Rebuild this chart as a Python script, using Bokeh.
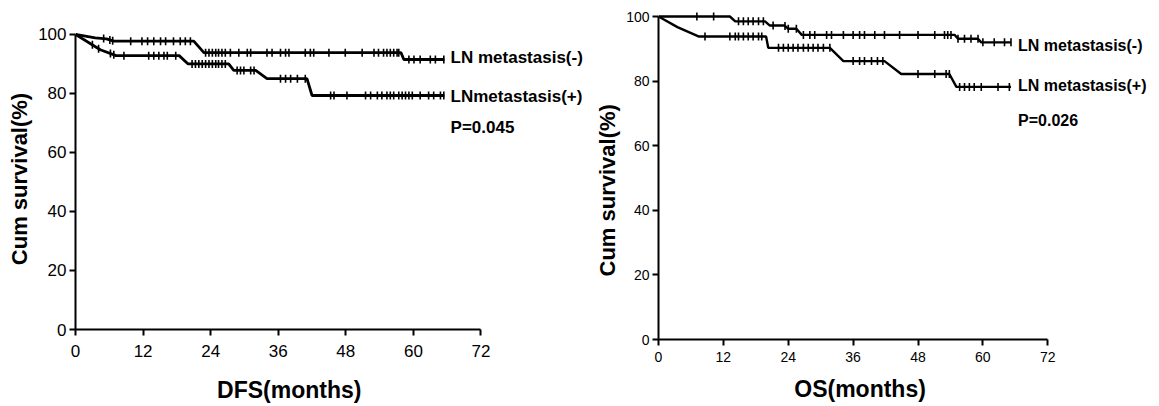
import numpy as np
from bokeh.plotting import figure
from bokeh.layouts import row, column
from bokeh.models import Label, Range1d, FixedTicker, Spacer
from bokeh.embed import file_html
from bokeh.resources import INLINE

# ---------------- data ----------------
x_ticks = [0, 12, 24, 36, 48, 60, 72]
y_ticks = [0, 20, 40, 60, 80, 100]

# DFS, LN metastasis(-)
dfs_neg_t = [0, 3.5, 5.5, 6.8, 21.0, 22.8, 57.8, 58.3, 65.5]
dfs_neg_s = [100, 98.8, 98.5, 97.7, 97.7, 93.8, 93.8, 91.5, 91.5]
dfs_neg_cens = [5.0, 6.1, 6.6, 9.8, 11.8, 12.8, 13.9, 15.1, 16.0, 17.4, 18.6, 19.5, 20.4,
                23.1, 23.7, 24.3, 24.9, 25.4, 26.0, 26.6, 27.5, 29.0, 30.5, 31.1, 34.0,
                34.9, 36.4, 37.3, 37.9, 40.8, 41.7, 42.3, 45.0, 47.9, 50.9, 53.0, 53.8,
                54.7, 55.3, 55.9, 56.5, 57.1, 57.4, 59.2, 60.1, 61.2, 63.0, 63.9, 65.4]

# DFS, LN metastasis(+)
dfs_pos_t = [0, 4.4, 7.2, 18.4, 20.0, 27.2, 28.1, 32.0, 34.0, 41.1, 42.0, 65.5]
dfs_pos_s = [100, 94.8, 92.8, 92.8, 90.0, 90.0, 87.8, 87.8, 85.0, 85.0, 79.3, 79.3]
dfs_pos_cens = [3.0, 4.1, 6.2, 6.8, 8.6, 13.0, 13.9, 14.8, 15.7, 16.3, 17.8,
                20.7, 21.3, 21.9, 22.5, 23.1, 23.7, 24.3, 24.9, 25.4, 26.0, 26.6,
                28.7, 29.3, 29.9, 31.1, 31.7, 36.4, 37.3, 38.2, 39.4, 40.8,
                45.3, 45.9, 48.2, 51.5, 52.4, 53.6, 54.4, 55.3, 55.9, 56.5, 57.4,
                58.0, 58.6, 59.2, 59.8, 61.2, 62.7, 63.6, 64.8, 65.4]

# OS, LN metastasis(-)
os_neg_t = [0, 13.2, 14.2, 19.7, 20.6, 23.3, 24.0, 25.5, 26.5, 54.8, 55.4, 59.1, 59.7, 65.2]
os_neg_s = [100, 100, 98.5, 98.5, 97.2, 97.2, 96.2, 96.2, 94.3, 94.3, 93.1, 93.1, 92.0, 92.0]
os_neg_cens = [7.1, 10.2, 14.8, 15.7, 16.6, 17.5, 18.5, 19.4, 21.2, 23.4, 24.0, 25.5,
               26.8, 28.0, 28.9, 31.1, 32.0, 34.2, 36.0, 37.2, 38.1, 40.0, 41.8, 44.6,
               48.0, 51.1, 52.9, 53.5, 54.1, 55.4, 56.6, 57.8, 59.1, 60.0, 62.1, 64.0, 65.2]

# OS, LN metastasis(+)
os_pos_t = [0, 3.5, 7.5, 19.9, 20.3, 31.7, 34.2, 41.8, 44.9, 53.8, 55.1, 65.2]
os_pos_s = [100, 96.7, 93.8, 93.8, 90.3, 90.3, 86.2, 86.2, 82.2, 82.2, 78.2, 78.2]
os_pos_cens = [8.6, 13.2, 14.2, 14.8, 15.7, 16.6, 17.5, 18.5, 19.1,
               22.2, 23.1, 24.0, 24.9, 25.8, 26.8, 27.7, 28.6, 29.5, 30.5, 31.7,
               36.0, 37.2, 38.1, 39.4, 40.5, 41.5, 48.0, 51.1, 53.2, 53.8,
               55.7, 56.6, 57.5, 58.4, 59.7, 62.8, 64.9]

FONT = "Liberation Sans"
NB = "\u00a0"


def panel(width, height, mb_left, mb_right, mb_top, mb_bottom, x_end, y_end, xlabel, ylabel,
          curves, labels, label_size, xtick_size, ytick_size, line_w, std_major, std_label):
    p = figure(width=width, height=height, output_backend="svg",
               toolbar_location=None, x_range=Range1d(0, x_end), y_range=Range1d(0, y_end),
               min_border_left=mb_left, min_border_right=mb_right,
               min_border_top=mb_top, min_border_bottom=mb_bottom)
    p.outline_line_color = None
    p.grid.visible = False
    p.background_fill_color = "white"
    p.border_fill_color = "white"
    for ax in (p.xaxis[0], p.yaxis[0]):
        ax.axis_line_width = 2
        ax.axis_line_color = "black"
        ax.major_tick_line_width = 2
        ax.major_tick_line_color = "black"
        ax.major_tick_out = 6
        ax.major_tick_in = 0
        ax.minor_tick_line_color = None
        ax.major_label_text_font = FONT
        ax.major_label_text_color = "black"
        ax.axis_label_text_font = FONT
        ax.axis_label_text_font_style = "bold"
        ax.axis_label_text_color = "black"
    p.xaxis.major_label_text_font_size = xtick_size
    p.yaxis.major_label_text_font_size = ytick_size
    p.xaxis.bounds = (0, 72)
    p.yaxis.bounds = (0, 100)
    p.xaxis.ticker = FixedTicker(ticks=x_ticks)
    p.yaxis.ticker = FixedTicker(ticks=y_ticks)
    p.xaxis.axis_label = xlabel
    p.yaxis.axis_label = ylabel
    p.xaxis.axis_label_text_font_size = "23px"
    p.yaxis.axis_label_text_font_size = "22px"
    p.xaxis.major_label_standoff = std_major
    p.yaxis.major_label_standoff = 3
    p.xaxis.axis_label_standoff = std_label
    p.yaxis.axis_label_standoff = 3

    for t, s, c in curves:
        p.line(t, s, line_color="black", line_width=line_w)
        cy = np.interp(c, t, s)
        p.scatter(c, cy, marker="dash", angle=np.pi / 2, size=8,
                  line_color="black", line_width=1.6)

    for (x, y, txt) in labels:
        p.add_layout(Label(x=x, y=y, text=txt, text_baseline="middle",
                           text_font=FONT, text_font_style="bold",
                           text_font_size=label_size, text_color="black"))
    return p


p1 = panel(592, 405, 75, 0, 28, 76, 91.8, 102.0,
           "DFS(months)" + NB * 14, "Cum survival(%)",
           [(dfs_neg_t, dfs_neg_s, dfs_neg_cens), (dfs_pos_t, dfs_pos_s, dfs_pos_cens)],
           [(66.6, 92.1, "LN metastasis(-)"), (66.6, 79.0, "LNmetastasis(+)"),
            (66.6, 68.6, "P=0.045")],
           "17px", "17px", "17px", 2.8, 9, 17)

p2 = panel(565, 405, 65, 0, 10, 66, 92.3, 101.86,
           "OS(months)" + NB * 15, "Cum survival(%)" + NB * 5,
           [(os_neg_t, os_neg_s, os_neg_cens), (os_pos_t, os_pos_s, os_pos_cens)],
           [(66.5, 91.0, "LN metastasis(-)"), (66.5, 78.6, "LN metastasis(+)"),
            (66.5, 67.8, "P=0.026")],
           "16px", "14px", "14px", 2.4, 6, 11)

layout = row(p1, column(Spacer(height=0, width=1), p2))
open("out.html", "w").write(file_html(layout, INLINE))
